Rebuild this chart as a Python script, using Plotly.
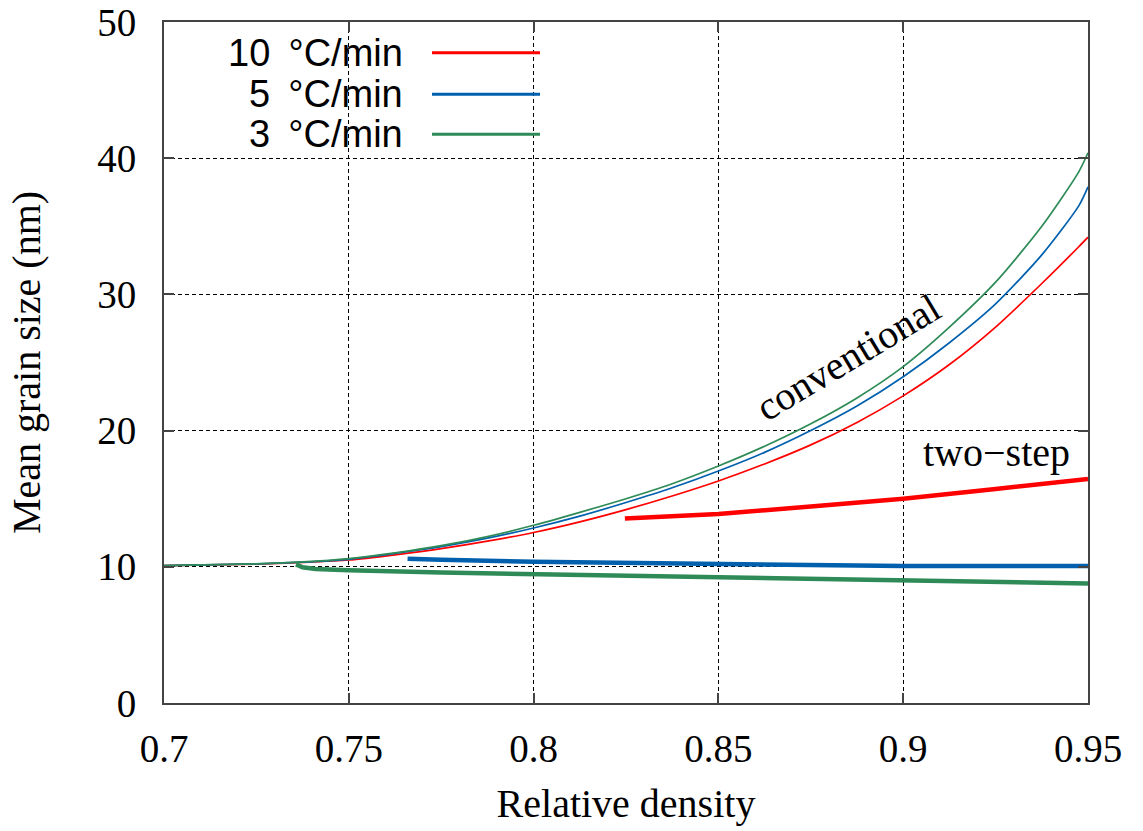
import plotly.graph_objects as go

# Relative density grid for the conventional (constant heating rate) runs
density_conv = [0.700, 0.725, 0.7375, 0.750, 0.7625, 0.775, 0.7875, 0.800, 0.8125, 0.825, 0.8375,
                0.850, 0.8625, 0.875, 0.8875, 0.900, 0.9125, 0.925, 0.9375, 0.9475, 0.950]
grain_conv_10 = [10.08, 10.20, 10.32, 10.50, 10.88, 11.33, 11.88, 12.52, 13.30, 14.20, 15.20,
                 16.30, 17.55, 18.95, 20.60, 22.55, 24.85, 27.60, 30.80, 33.50, 34.20]
grain_conv_5 = [10.08, 10.21, 10.34, 10.55, 10.98, 11.48, 12.10, 12.85, 13.72, 14.72, 15.80,
                17.03, 18.40, 20.00, 21.80, 23.95, 26.45, 29.30, 32.90, 36.50, 37.90]
grain_conv_3 = [10.08, 10.22, 10.36, 10.60, 11.02, 11.55, 12.22, 13.05, 14.00, 15.00, 16.10,
                17.40, 18.85, 20.50, 22.40, 24.70, 27.60, 30.90, 35.00, 39.00, 40.40]

# Two-step sintering runs
density_two_10 = [0.8247, 0.8375, 0.850, 0.875, 0.900, 0.925, 0.950]
grain_two_10 = [13.55, 13.72, 13.87, 14.43, 15.00, 15.72, 16.45]

density_two_5 = [0.7659, 0.770, 0.775, 0.800, 0.825, 0.850, 0.875, 0.900, 0.925, 0.950]
grain_two_5 = [10.60, 10.55, 10.51, 10.37, 10.27, 10.17, 10.10, 10.05, 10.05, 10.05]

density_two_3 = [0.7357, 0.7375, 0.741, 0.750, 0.775, 0.800, 0.825, 0.850, 0.875, 0.900, 0.925, 0.950]
grain_two_3 = [10.18, 9.97, 9.84, 9.74, 9.58, 9.47, 9.37, 9.27, 9.15, 9.03, 8.90, 8.78]

rate_labels = ["10\u2009 °C/min", "5\u2009 °C/min", "3\u2009 °C/min"]
x_ticks = [0.7, 0.75, 0.8, 0.85, 0.9, 0.95]
x_tick_text = ["0.7", "0.75", "0.8", "0.85", "0.9", "0.95"]
y_ticks = [0, 10, 20, 30, 40, 50]

RED, BLUE, GREEN = "#ff0000", "#0060ad", "#2e8b57"
colors = [RED, BLUE, GREEN]
SERIF = "Liberation Serif, Times New Roman, serif"
SANS = "Liberation Sans, Arial, sans-serif"

W, H = 1143, 831
L, R, T, B = 164, 55, 22, 128
PW, PH = W - L - R, H - T - B


def px(x):
    return (x - L) / PW


def py(y):
    return (H - B - y) / PH


fig = go.Figure()

conv = [grain_conv_10, grain_conv_5, grain_conv_3]
two = [(density_two_10, grain_two_10), (density_two_5, grain_two_5), (density_two_3, grain_two_3)]

for ys, c in zip(conv, colors):
    fig.add_trace(go.Scatter(x=density_conv, y=ys, mode="lines",
                             line=dict(color=c, width=1.7, shape="spline", smoothing=0.7),
                             showlegend=False, hoverinfo="skip"))

for (xs, ys), c in zip(two, colors):
    fig.add_trace(go.Scatter(x=xs, y=ys, mode="lines",
                             line=dict(color=c, width=4.5),
                             showlegend=False, hoverinfo="skip"))

axis_common = dict(
    showline=True, linecolor="#444444", linewidth=2, mirror="ticks",
    ticks="inside", ticklen=10, tickwidth=1.5, tickcolor="#444444",
    showgrid=True, gridcolor="#000000", gridwidth=1, griddash="4px,3px",
    zeroline=False, automargin=False,
    tickfont=dict(family=SERIF, size=39, color="#000000"),
)

fig.update_layout(
    width=W, height=H,
    margin=dict(l=L, r=R, t=T, b=B, pad=0),
    paper_bgcolor="white", plot_bgcolor="white",
    showlegend=False,
    xaxis=dict(range=[0.7, 0.95], tickvals=x_ticks, ticktext=x_tick_text,
               ticklabelstandoff=10,
               title=dict(text="Relative density", font=dict(family=SERIF, size=40, color="#000"),
                          standoff=20),
               **axis_common),
    yaxis=dict(range=[0, 50], tickvals=y_ticks, ticklabelstandoff=18,
               title=dict(text="Mean grain size (nm)", font=dict(family=SERIF, size=40, color="#000"),
                          standoff=44),
               **axis_common),
)

# Key: right-aligned labels followed by line samples
key_rows = [52.7, 94.3, 134.3]
for label, c, yrow in zip(rate_labels, colors, key_rows):
    fig.add_annotation(text=label, xref="paper", yref="paper", x=px(405), y=py(yrow),
                       xanchor="right", yanchor="middle", showarrow=False,
                       font=dict(family=SANS, size=38, color="#000"))
    fig.add_shape(type="line", xref="paper", yref="paper",
                  x0=px(432), x1=px(540), y0=py(yrow), y1=py(yrow),
                  line=dict(color=c, width=3))

fig.add_annotation(text="conventional", xref="paper", yref="paper", x=px(848), y=py(358),
                   xanchor="center", yanchor="middle", textangle=-31, showarrow=False,
                   font=dict(family=SERIF, size=40, color="#000"))
fig.add_annotation(text="two\u2212step", xref="paper", yref="paper", x=px(996), y=py(452),
                   xanchor="center", yanchor="middle", showarrow=False,
                   font=dict(family=SERIF, size=40, color="#000"))

fig.write_html("out.html")
